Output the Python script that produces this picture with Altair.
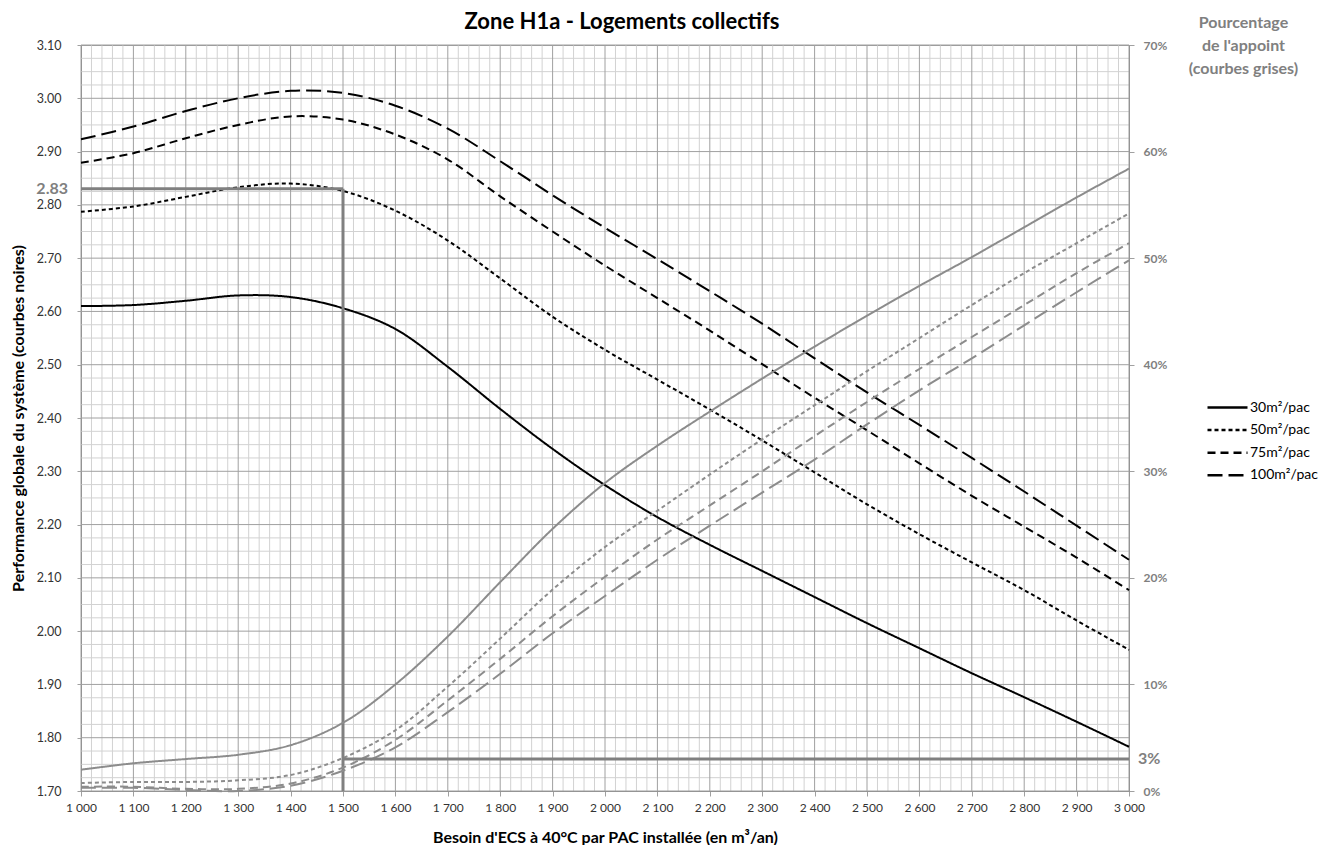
import altair as alt
import pandas as pd

FONT = "Lato"

# ---- data ----
x_vals = [1000, 1100, 1200, 1300, 1400, 1500, 1600, 1700, 1800, 1900, 2000,
          2100, 2200, 2300, 2400, 2500, 2600, 2700, 2800, 2900, 3000]
series = ["30m²/pac", "50m²/pac", "75m²/pac", "100m²/pac"]

perf_30 = [2.610, 2.612, 2.620, 2.630, 2.627, 2.606, 2.567, 2.496, 2.417, 2.342, 2.274,
           2.214, 2.162, 2.113, 2.064, 2.015, 1.968, 1.921, 1.876, 1.830, 1.783]
perf_50 = [2.787, 2.797, 2.815, 2.833, 2.840, 2.826, 2.789, 2.733, 2.662, 2.590, 2.528,
           2.472, 2.416, 2.358, 2.298, 2.238, 2.182, 2.129, 2.077, 2.020, 1.965]
perf_75 = [2.879, 2.897, 2.925, 2.950, 2.966, 2.960, 2.932, 2.885, 2.816, 2.750, 2.686,
           2.625, 2.564, 2.501, 2.438, 2.377, 2.315, 2.254, 2.196, 2.138, 2.077]
perf_100 = [2.923, 2.947, 2.976, 3.000, 3.014, 3.010, 2.986, 2.943, 2.882, 2.818, 2.757,
            2.698, 2.638, 2.577, 2.512, 2.448, 2.387, 2.325, 2.262, 2.198, 2.134]

app_30 = [2.0, 2.6, 3.0, 3.4, 4.3, 6.4, 10.0, 14.5, 19.6, 24.6, 28.9,
          32.4, 35.6, 38.7, 41.7, 44.6, 47.4, 50.1, 52.9, 55.7, 58.4]
app_50 = [0.75, 0.85, 0.85, 1.0, 1.5, 3.1, 5.7, 9.8, 14.3, 18.9, 22.9,
          26.3, 29.7, 33.0, 36.2, 39.4, 42.5, 45.6, 48.6, 51.4, 54.2]
app_75 = [0.4, 0.4, 0.2, 0.2, 0.7, 2.2, 4.8, 8.5, 12.4, 16.4, 20.1,
          23.6, 26.8, 30.0, 33.3, 36.5, 39.6, 42.6, 45.6, 48.6, 51.4]
app_100 = [0.3, 0.3, 0.1, 0.0, 0.5, 1.9, 4.1, 7.4, 11.0, 14.8, 18.3,
           21.7, 24.9, 28.0, 31.1, 34.4, 37.6, 40.6, 43.7, 46.8, 49.8]

ref_x = [1000, 1500]          # reading line for 2.83
ref_perf = 2.83
ref_x_app = [1500, 3000]      # reading line for 3 %
ref_app = 3

x_ticks = list(range(1000, 3001, 100))
x_minor = [v for v in range(1000, 3001, 20) if v % 100]
y_ticks = [round(1.70 + 0.1 * i, 2) for i in range(15)]
y_minor = [round(1.70 + 0.025 * i, 3) for i in range(57) if i % 4]
app_ticks = [0, 10, 20, 30, 40, 50, 60, 70]

# ---- tables ----
perf = dict(zip(series, [perf_30, perf_50, perf_75, perf_100]))
app = dict(zip(series, [app_30, app_50, app_75, app_100]))
perf_df = pd.DataFrame([{"x": x, "serie": s, "v": v}
                        for s in series for x, v in zip(x_vals, perf[s])])
app_df = pd.DataFrame([{"x": x, "serie": s, "v": v}
                       for s in series for x, v in zip(x_vals, app[s])])

xs = alt.Scale(domain=[1000, 3000], nice=False, zero=False)
yl = alt.Scale(domain=[1.70, 3.10], nice=False, zero=False)
yr = alt.Scale(domain=[0, 70], nice=False, zero=False)
dash = alt.Scale(domain=series, range=[[1, 0], [4, 3], [8, 5], [15, 6]])

GRAY = "#8c8c8c"
MAJ = "#a0a0a0"
MIN = "#d2d2d2"

x_axis = alt.Axis(values=x_ticks, labelExpr="replace(format(datum.value, ','), ',', ' ')",
                  title="Besoin d'ECS à 40°C par PAC installée (en m³/an)",
                  titleFontSize=16, titleFontWeight="bold", titleColor="black",
                  titlePadding=16, labelFontSize=12, labelColor="#333333",
                  labelPadding=6, tickSize=5, tickColor=MAJ, domainColor="#888888",
                  grid=False, labelFlush=False, orient="bottom")
yl_axis = alt.Axis(values=y_ticks, format=".2f", orient="left",
                   title="Performance globale du système (courbes noires)",
                   titleFontSize=16, titleFontWeight="bold", titleColor="black",
                   titlePadding=10, labelFontSize=12.5, labelColor="#333333",
                   labelPadding=16, tickSize=4, tickColor=MAJ, domainColor="#888888",
                   grid=False)
yr_axis = alt.Axis(values=app_ticks, labelExpr="datum.value + '%'", orient="right",
                   title=["Pourcentage", "de l'appoint", "(courbes grises)"],
                   titleAngle=0, titleAlign="center", titleBaseline="top",
                   titleX=114, titleY=-31, titleFontSize=16, titleFontWeight="bold",
                   titleColor="#808080", titleLineHeight=23,
                   labelFontSize=12, labelFontWeight="bold", labelColor="#808080",
                   labelPadding=9, tickSize=5, tickColor=MAJ, domainColor="#888888",
                   grid=False)


def X(field):
    return alt.X(field, type="quantitative", scale=xs, axis=x_axis)


def YL(field):
    return alt.Y(field, type="quantitative", scale=yl, axis=yl_axis)


def YR(field):
    return alt.Y(field, type="quantitative", scale=yr, axis=yr_axis)


# grid
g_xmin = alt.Chart(pd.DataFrame({"x": x_minor})).mark_rule(color=MIN, strokeWidth=1).encode(
    x=X("x"))
g_ymin = alt.Chart(pd.DataFrame({"y": y_minor})).mark_rule(color=MIN, strokeWidth=1).encode(
    y=YL("y"))
g_xmaj = alt.Chart(pd.DataFrame({"x": x_ticks})).mark_rule(color=MAJ, strokeWidth=1).encode(
    x=X("x"))
g_ymaj = alt.Chart(pd.DataFrame({"y": y_ticks})).mark_rule(color=MAJ, strokeWidth=1).encode(
    y=YL("y"))

black = alt.Chart(perf_df).mark_line(color="black", strokeWidth=2,
                                     interpolate="catmull-rom").encode(
    x=X("x"),
    y=YL("v"),
    strokeDash=alt.StrokeDash("serie:N", scale=dash, title=None,
                              legend=alt.Legend(orient="none", legendX=1135, legendY=351,
                                                symbolType="M-2,0H2", symbolSize=400,
                                                symbolStrokeWidth=2.5,
                                                symbolStrokeColor="black",
                                                symbolFillColor="black",
                                                labelFontSize=14, labelColor="black",
                                                labelOffset=11, rowPadding=3.6,
                                                padding=0)),
)

ref_df = pd.DataFrame({"x": [ref_x[0]], "x2": [ref_x[1]], "y": [ref_perf],
                       "y0": [yl.domain[0]], "label": [f"{ref_perf:.2f}"]})
ref_h = alt.Chart(ref_df).mark_rule(color="#808080", strokeWidth=3).encode(
    x=X("x"), x2="x2:Q", y=YL("y"))
ref_v = alt.Chart(ref_df).mark_rule(color="#808080", strokeWidth=3).encode(
    x=X("x2"), y=YL("y"), y2="y0:Q")
ref_t = alt.Chart(ref_df).mark_text(align="right", baseline="middle", dx=-13,
                                    fontSize=16, fontWeight="bold", color="#808080").encode(
    x=X("x"), y=YL("y"), text="label:N")

left = alt.layer(g_xmin, g_ymin, g_xmaj, g_ymaj, black, ref_h, ref_v, ref_t)

gray = alt.Chart(app_df).mark_line(color=GRAY, strokeWidth=2,
                                   interpolate="catmull-rom").encode(
    x=X("x"),
    y=YR("v"),
    strokeDash=alt.StrokeDash("serie:N", scale=dash, legend=None),
)
app_ref = pd.DataFrame({"x": [ref_x_app[0]], "x2": [ref_x_app[1]], "y": [ref_app],
                        "label": [f"{ref_app}%"]})
app_h = alt.Chart(app_ref).mark_rule(color="#808080", strokeWidth=3).encode(
    x=X("x"), x2="x2:Q", y=YR("y"))
app_t = alt.Chart(app_ref).mark_text(align="left", baseline="middle", dx=9,
                                     fontSize=16, fontWeight="bold", color="#808080").encode(
    x=X("x2"), y=YR("y"), text="label:N")

right = alt.layer(gray, app_h, app_t)

chart = alt.layer(left, right).resolve_scale(y="independent").properties(
    width=1048, height=746,
    padding={"left": 2, "top": 3, "right": 0, "bottom": 0},
    title=alt.TitleParams("Zone H1a - Logements collectifs", fontSize=22, fontWeight="bold",
                          color="black", anchor="middle", frame="group", dx=17, offset=-20),
).configure(font=FONT).configure_view(stroke="#9a9a9a")

chart.save("out.html", embed_options={"renderer": "svg", "actions": False})
